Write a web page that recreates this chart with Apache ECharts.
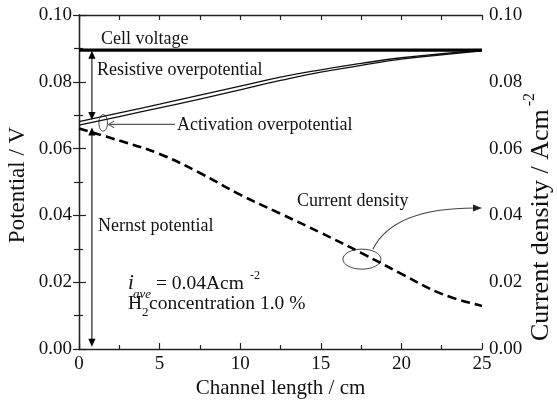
<!DOCTYPE html>
<html><head><meta charset="utf-8">
<script src="https://cdn.jsdelivr.net/npm/echarts@6/dist/echarts.min.js"></script>
<style>html,body{margin:0;padding:0;background:#fff}#c{width:557px;height:403px}</style>
</head><body><div id="c"></div>
<script>
// Channel length (cm)
const channelX = [0, 2.5, 5, 7.5, 10, 12.5, 15, 17.5, 20, 22.5, 25];
// Cell voltage (V)
const cellVoltage = [0.0895, 0.0895, 0.0895, 0.0895, 0.0895, 0.0895, 0.0895, 0.0895, 0.0895, 0.0895, 0.0895];
// Cell voltage minus resistive overpotential (V)
const resistiveLine = [0.0681, 0.0707, 0.0733, 0.0760, 0.0787, 0.0814, 0.0836, 0.0855, 0.0872, 0.0884, 0.0895];
// Nernst potential (V)
const nernstLine = [0.0670, 0.0696, 0.0722, 0.0748, 0.0776, 0.0804, 0.0829, 0.0849, 0.0868, 0.0881, 0.0893];
// Current density (A cm^-2)
const currentDensity = [0.0660, 0.0624, 0.0584, 0.0527, 0.0462, 0.0405, 0.0348, 0.0288, 0.0225, 0.0165, 0.0129];

const FONT = '"Liberation Serif", "Times New Roman", serif';
const INK = '#111';
const pairs = ys => channelX.map((x, i) => [x, ys[i]]);

const yAxisBase = {
  type: 'value', min: 0, max: 0.10, interval: 0.02,
  splitLine: { show: false },
  axisLine: { show: true, lineStyle: { color: '#222', width: 1.3 } },
  axisTick: { show: true, inside: true, length: 7, lineStyle: { color: '#222', width: 1.2 } },
  minorTick: { show: true, splitNumber: 2, length: 4, lineStyle: { color: '#222', width: 1.2 } },
  axisLabel: { color: INK, fontFamily: FONT, fontSize: 19, margin: 7, formatter: v => v.toFixed(2) },
  nameMoveOverlap: false
};

const option = {
  animation: false,
  backgroundColor: '#fff',
  grid: { left: 79, right: 75, top: 15, bottom: 54, containLabel: false, outerBoundsMode: 'none' },
  xAxis: [
    {
      type: 'value', position: 'bottom', min: 0, max: 25, interval: 5,
      splitLine: { show: false },
      axisLine: { show: true, onZero: false, lineStyle: { color: '#222', width: 1.3 } },
      axisTick: { show: true, inside: true, length: 6, lineStyle: { color: '#222', width: 1.2 } },
      minorTick: { show: true, splitNumber: 2, length: 4, lineStyle: { color: '#222', width: 1.2 } },
      axisLabel: { color: INK, fontFamily: FONT, fontSize: 19, margin: 6 },
      name: 'Channel length / cm', nameLocation: 'middle', nameGap: 29, nameMoveOverlap: false,
      nameTextStyle: { color: INK, fontFamily: FONT, fontSize: 21 }
    },
    {
      type: 'value', position: 'top', min: 0, max: 25, interval: 2.5,
      splitLine: { show: false },
      axisLine: { show: true, onZero: false, lineStyle: { color: '#222', width: 1.3 } },
      axisTick: { show: true, inside: true, length: 5, lineStyle: { color: '#222', width: 1.2 } },
      axisLabel: { show: false }
    }
  ],
  yAxis: [
    Object.assign({}, yAxisBase, {
      position: 'left',
      name: 'Potential / V', nameLocation: 'middle', nameGap: 50,
      nameTextStyle: { color: INK, fontFamily: FONT, fontSize: 23, padding: [0, 6, 0, 0] }
    }),
    Object.assign({}, yAxisBase, {
      position: 'right',
      axisTick: { show: true, inside: true, length: 6, lineStyle: { color: '#222', width: 1.2 } },
      minorTick: { show: true, splitNumber: 2, length: 5, lineStyle: { color: '#222', width: 1.2 } },
      name: '{m|Current density / Acm}{s|-2}', nameLocation: 'middle', nameGap: 40,
      nameTextStyle: {
        color: INK, fontFamily: FONT, fontSize: 26, padding: [0, 70, 0, 0],
        rich: {
          m: { fontFamily: FONT, fontSize: 26, color: INK, lineHeight: 32, verticalAlign: 'bottom' },
          s: { fontFamily: FONT, fontSize: 16, color: INK, lineHeight: 32, verticalAlign: 'top', padding: [0, 0, 0, 3] }
        }
      }
    })
  ],
  series: [
    { name: 'Cell voltage', type: 'line', data: pairs(cellVoltage), symbol: 'none',
      lineStyle: { color: '#000', width: 3.2 }, z: 5 },
    { name: 'Resistive', type: 'line', data: pairs(resistiveLine), symbol: 'none', smooth: true,
      lineStyle: { color: '#111', width: 1.3 } },
    { name: 'Nernst', type: 'line', data: pairs(nernstLine), symbol: 'none', smooth: true,
      lineStyle: { color: '#111', width: 1.3 } },
    { name: 'Current density', type: 'line', yAxisIndex: 1, data: pairs(currentDensity), symbol: 'none', smooth: 0.4,
      lineStyle: { color: '#000', width: 2.6, type: [9, 5] } }
  ]
};

const chart = echarts.init(document.getElementById('c'));
chart.setOption(option);

const P = (x, y) => chart.convertToPixel({ xAxisIndex: 0, yAxisIndex: 0 }, [x, y]);
const PR = (x, y) => chart.convertToPixel({ xAxisIndex: 0, yAxisIndex: 1 }, [x, y]);

const g = [];
const stroke = (c, w) => ({ stroke: c, lineWidth: w, fill: null });
function vLine(x, y1, y2) { g.push({ type: 'line', shape: { x1: x, y1: y1, x2: x, y2: y2 }, style: stroke('#222', 1.2) }); }
function upHead(x, tip) { g.push({ type: 'polygon', shape: { points: [[x, tip], [x - 3.6, tip + 8], [x + 3.6, tip + 8]] }, style: { fill: '#000' } }); }
function downHead(x, tip) { g.push({ type: 'polygon', shape: { points: [[x, tip], [x - 3.6, tip - 8], [x + 3.6, tip - 8]] }, style: { fill: '#000' } }); }
function txt(s, x, y, size, style) {
  g.push({ type: 'text', x: x, y: y, style: { text: s, fill: INK, font: (style || '') + ' ' + size + 'px ' + FONT, align: 'left', verticalAlign: 'middle' } });
}

// resistive overpotential arrow
const arrowX = 0.8;
const rTop = P(arrowX, 0.0893), rBot = P(arrowX, 0.0686);
vLine(rTop[0], rTop[1] + 6, rBot[1] - 6); upHead(rTop[0], rTop[1]); downHead(rTop[0], rBot[1]);
// Nernst potential arrow
const nTop = P(arrowX, 0.0663), nBot = P(arrowX, 0.0007);
vLine(nTop[0], nTop[1] + 6, nBot[1] - 6); upHead(nTop[0], nTop[1]); downHead(nTop[0], nBot[1]);

// activation ellipse + arrow
const aC = P(1.5, 0.0677);
g.push({ type: 'ellipse', shape: { cx: aC[0], cy: aC[1], rx: 4.3, ry: 8.3 }, style: stroke('#444', 1) });
const aY = aC[1] + 1.5;
g.push({ type: 'line', shape: { x1: 175, y1: aY, x2: aC[0] + 5.5, y2: aY }, style: stroke('#555', 1.1) });
g.push({ type: 'polyline', shape: { points: [[aC[0] + 11, aY - 3.5], [aC[0] + 5.5, aY], [aC[0] + 11, aY + 3.5]] }, style: stroke('#555', 1.1) });

// current density ellipse + curved arrow
const cC = P(17.55, 0.0269);
g.push({ type: 'ellipse', shape: { cx: cC[0], cy: cC[1], rx: 19, ry: 10 }, style: stroke('#444', 1) });
const cEnd = PR(25, 0.0422);
const sx = cC[0] + 11, sy = cC[1] - 10;
g.push({ type: 'bezierCurve', shape: { x1: sx, y1: sy, cpx1: sx + 12, cpy1: sy - 24, cpx2: sx + 40, cpy2: cEnd[1], x2: cEnd[0] - 7, y2: cEnd[1] }, style: stroke('#444', 1.1) });
g.push({ type: 'polygon', shape: { points: [[cEnd[0], cEnd[1]], [cEnd[0] - 9, cEnd[1] - 3.5], [cEnd[0] - 9, cEnd[1] + 3.5]] }, style: { fill: '#222' } });

// texts
txt('Cell voltage', 101, 39, 18);
txt('Resistive overpotential', 97, 70, 18);
txt('Activation overpotential', 177, 125, 18);
txt('Current density', 297, 201, 18);
txt('Nernst potential', 98, 226, 18);
txt('i', 128, 283, 21, 'italic');
txt('ave', 133, 295, 13, 'italic');
txt('= 0.04Acm', 156, 284, 19.5);
txt('-2', 250, 276, 12);
txt('H', 128, 304, 19.5);
txt('2', 142, 313, 13);
txt('concentration 1.0 %', 149, 304, 19.5);

chart.setOption({ graphic: { elements: g } });
</script></body></html>
